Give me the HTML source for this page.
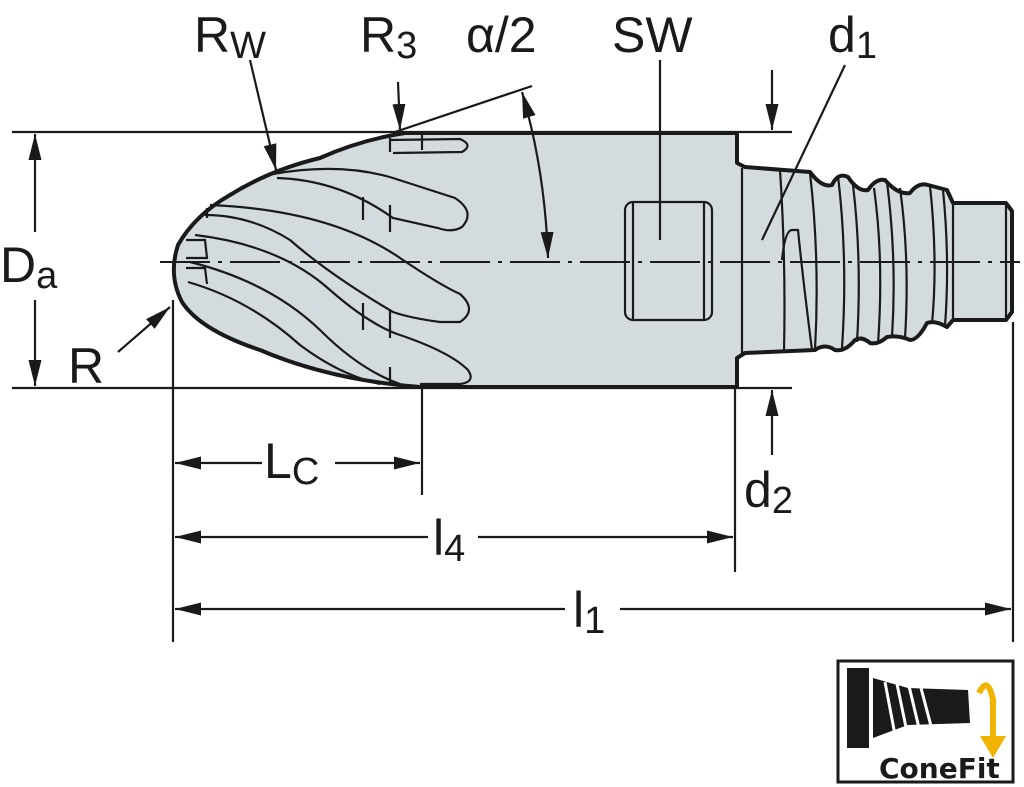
<!DOCTYPE html>
<html><head><meta charset="utf-8"><style>
html,body{margin:0;padding:0;background:#fff;}
svg{display:block;}
text{font-family:"Liberation Sans",sans-serif;fill:#1a1a1a;}
</style></head><body>
<svg width="1024" height="787" viewBox="0 0 1024 787" xmlns="http://www.w3.org/2000/svg">
<defs>
<marker id="b" viewBox="0 0 24 12" refX="24" refY="6" markerWidth="26" markerHeight="13" orient="auto-start-reverse" markerUnits="userSpaceOnUse"><path d="M0,0 L24,6 L0,12 z" fill="#1a1a1a"/></marker>
</defs>
<g stroke="#1a1a1a" fill="none" stroke-width="2.2">
<line x1="12" y1="132" x2="792" y2="132"/>
<line x1="12" y1="388" x2="792" y2="388"/>
</g>
<!-- body -->
<path d="M405,133 L737,133 L737,163 L745,167 L810,172 Q822,188 832,185 Q838,172 848,177 Q858,192 868,190 Q876,178 885,180 Q898,195 910,193 Q918,182 928,185 L947,190 L953,203 L1006,203 L1012,211 L1012,312 L1006,320 L953,320 L947,327 Q935,320 927,323 Q918,340 910,340 Q898,335 887,337 Q878,345 870,343 Q862,336 855,340 Q845,352 835,350 Q825,343 815,350 L745,353 L737,358 L737,387 L420,387 Q330,380 260,350 Q200,330 182,302 Q168,275 178,245 Q195,215 230,195 Q270,170 320,158 Q360,140 405,133 Z" fill="#d3dbdf" stroke="#1a1a1a" stroke-width="4" stroke-linejoin="round"/>
<g stroke="#1a1a1a" fill="none" stroke-width="2.2">
<!-- flutes -->
<path d="M390,140 L460,139 Q474,145 462,152 L393,153"/>
<path d="M273,174 Q340,162 393,178 Q430,190 455,198 Q476,212 462,227 Q452,233 438,228 L393,218 Q340,180 277,178"/>
<path d="M210,205 Q330,210 400,258 Q440,285 460,294 Q478,310 460,322 L440,322 Q410,318 393,312 Q330,275 290,240 Q250,215 205,215"/>
<path d="M195,235 Q280,245 330,290 Q370,325 400,335 Q450,352 468,370 Q476,382 460,384 L420,384"/>
<path d="M190,262 Q270,282 320,330 Q360,370 400,384"/>
<path d="M188,282 Q250,300 300,345 Q340,375 380,384"/>
<path d="M186,240 L205,240 L207,258 L186,258"/>
<path d="M186,268 L205,268 L207,284"/>
<line x1="363" y1="197" x2="363" y2="220"/><line x1="390" y1="205" x2="390" y2="232"/>
<line x1="363" y1="303" x2="363" y2="330"/><line x1="390" y1="310" x2="390" y2="338"/>
<line x1="390" y1="138" x2="390" y2="152"/><line x1="422" y1="135" x2="422" y2="150"/>
<line x1="390" y1="367" x2="390" y2="383"/><line x1="207" y1="208" x2="207" y2="218"/>
<!-- SW flat -->
<rect x="625" y="202" width="87" height="118" rx="8"/>
<line x1="633" y1="203" x2="633" y2="319"/><line x1="704" y1="203" x2="704" y2="319"/>
<!-- shank details -->
<line x1="742" y1="168" x2="742" y2="353"/>
<path d="M780,170 Q786,260 784,352"/>
<path d="M782,260 Q785,230 792,230 L798,230 Q803,280 812,350"/>
<path d="M810,173 Q820,260 815,350"/><path d="M838,176 Q848,260 842,348"/>
<path d="M853,185 Q862,260 857,342"/><path d="M874,188 Q884,260 878,344"/>
<path d="M887,182 Q897,260 892,337"/><path d="M900,188 Q910,260 905,338"/>
<path d="M930,186 Q938,260 932,324"/><path d="M943,190 Q950,260 945,326"/>
<line x1="953" y1="203" x2="953" y2="320"/><line x1="1006" y1="205" x2="1006" y2="318"/>
<!-- centerline -->
<line x1="160" y1="262" x2="1020" y2="262" stroke-dasharray="50,8,4,8" stroke-width="2"/>
<!-- extension lines -->
<line x1="173" y1="300" x2="173" y2="642"/>
<line x1="422" y1="388" x2="422" y2="495"/>
<line x1="735" y1="388" x2="735" y2="572"/>
<line x1="1013" y1="322" x2="1013" y2="642"/>
<line x1="35" y1="134" x2="35" y2="232" marker-start="url(#b)"/>
<line x1="35" y1="300" x2="35" y2="386" marker-end="url(#b)"/>
<line x1="118" y1="352" x2="170" y2="307" marker-end="url(#b)"/>
<line x1="175" y1="463" x2="262" y2="463" marker-start="url(#b)"/>
<line x1="335" y1="463" x2="420" y2="463" marker-end="url(#b)"/>
<line x1="175" y1="537" x2="428" y2="537" marker-start="url(#b)"/>
<line x1="478" y1="537" x2="733" y2="537" marker-end="url(#b)"/>
<line x1="175" y1="609" x2="565" y2="609" marker-start="url(#b)"/>
<line x1="620" y1="609" x2="1011" y2="609" marker-end="url(#b)"/>
<line x1="772" y1="455" x2="772" y2="390" marker-end="url(#b)"/>
<line x1="772" y1="70" x2="772" y2="130" marker-end="url(#b)"/>
<line x1="845" y1="65" x2="762" y2="240"/>
<line x1="660" y1="60" x2="660" y2="240"/>
<line x1="395" y1="132" x2="532" y2="86"/>
<path d="M522,92 Q545,170 548,258" marker-start="url(#b)" marker-end="url(#b)"/>
<line x1="398" y1="82" x2="400" y2="130" marker-end="url(#b)"/>
<line x1="250" y1="60" x2="276" y2="170" marker-end="url(#b)"/>
</g>
<g font-size="50">
<text x="194" y="52">R<tspan font-size="38" dy="6">W</tspan></text>
<text x="360" y="52">R<tspan font-size="38" dy="6">3</tspan></text>
<text x="466" y="52">α/2</text>
<text x="612" y="52">SW</text>
<text x="828" y="52">d<tspan font-size="38" dy="6">1</tspan></text>
<text x="0" y="282">D<tspan font-size="38" dy="6">a</tspan></text>
<text x="68" y="383">R</text>
<text x="264" y="478">L<tspan font-size="38" dy="6">C</tspan></text>
<text x="433" y="555">l<tspan font-size="38" dy="6">4</tspan></text>
<text x="573" y="627">l<tspan font-size="38" dy="6">1</tspan></text>
<text x="744" y="507">d<tspan font-size="38" dy="6">2</tspan></text>
</g>
<!-- ConeFit icon -->
<rect x="838" y="661" width="175" height="121" fill="#fff" stroke="#1a1a1a" stroke-width="3"/>
<rect x="847" y="668" width="22" height="80" fill="#1a1a1a"/>
<path d="M873,678 L908,688 L968,690 L970,723 L908,725 L873,738 Z" fill="#1a1a1a"/>
<g stroke="#fff" stroke-width="3"><line x1="885" y1="682" x2="895" y2="735"/><line x1="897" y1="684" x2="907" y2="732"/><line x1="909" y1="686" x2="919" y2="728"/><line x1="921" y1="688" x2="931" y2="726"/></g>
<path d="M979,693 Q988,675 993,700 L993,738" stroke="#f0b400" stroke-width="6" fill="none"/>
<path d="M980,736 L1006,736 L993,758 Z" fill="#f0b400"/>
<text x="879" y="778" font-size="28" font-weight="bold" style="font-family:'DejaVu Sans',sans-serif">ConeFit</text>
</svg>
</body></html>
